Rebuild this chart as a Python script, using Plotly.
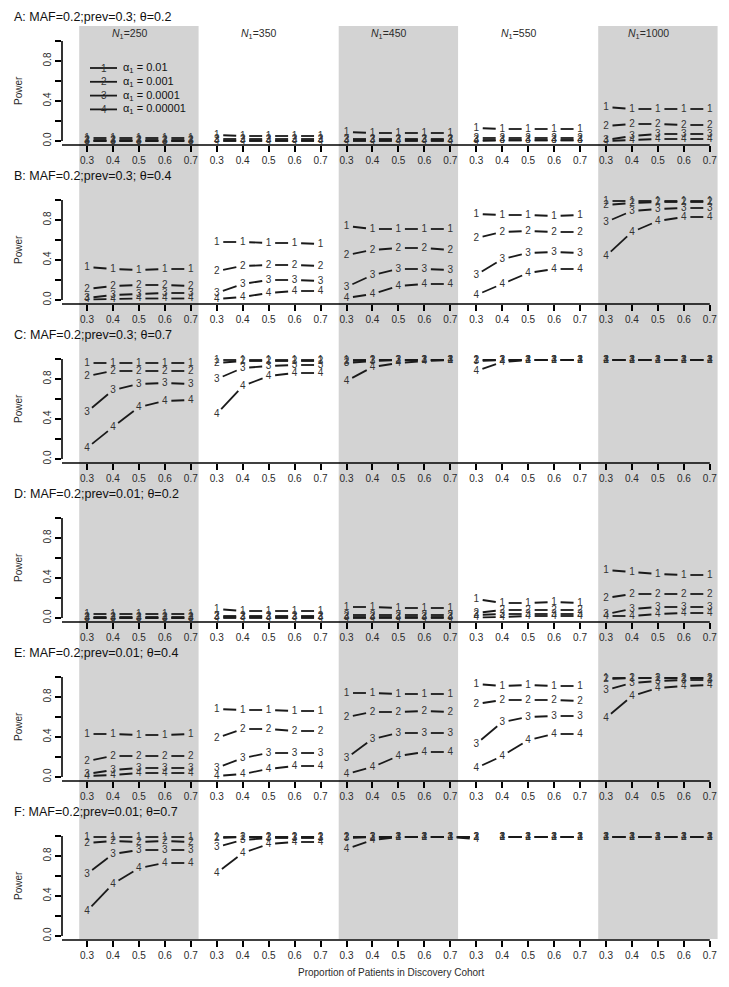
import math
import plotly.graph_objects as go

W, H = 729, 987          # browser window
OFF = 8                  # default page margin of the html body
FW, FH = W - 2 * OFF, H - 2 * OFF   # figure size

# ---------------- data ----------------
PROPS = ["0.3", "0.4", "0.5", "0.6", "0.7"]
N1_VALUES = ["250", "350", "450", "550", "1000"]
ALPHAS = ["0.01", "0.001", "0.0001", "0.00001"]
ROW_TITLES = [
    "A: MAF=0.2;prev=0.3; θ=0.2",
    "B: MAF=0.2;prev=0.3; θ=0.4",
    "C: MAF=0.2;prev=0.3; θ=0.7",
    "D: MAF=0.2;prev=0.01; θ=0.2",
    "E: MAF=0.2;prev=0.01; θ=0.4",
    "F: MAF=0.2;prev=0.01; θ=0.7",
]

# each list: 25 values = 5 panels (N1=250,350,450,550,1000) x 5 proportions
A_S1 = [0.03, 0.03, 0.03, 0.03, 0.03, 0.06, 0.05, 0.05, 0.05, 0.05, 0.09, 0.08, 0.08, 0.08, 0.08, 0.13, 0.12, 0.12, 0.12, 0.12, 0.34, 0.32, 0.32, 0.32, 0.32]
A_S2 = [0.01, 0.01, 0.01, 0.01, 0.01, 0.02, 0.02, 0.02, 0.02, 0.02, 0.02, 0.02, 0.02, 0.02, 0.02, 0.03, 0.03, 0.03, 0.03, 0.03, 0.15, 0.17, 0.17, 0.16, 0.16]
A_S3 = [0.00, 0.00, 0.00, 0.00, 0.00, 0.005, 0.005, 0.005, 0.005, 0.005, 0.01, 0.01, 0.01, 0.01, 0.01, 0.01, 0.01, 0.01, 0.01, 0.01, 0.01, 0.05, 0.07, 0.07, 0.07]
A_S4 = [0.00, 0.00, 0.00, 0.00, 0.00, 0.00, 0.00, 0.00, 0.00, 0.00, 0.00, 0.00, 0.00, 0.00, 0.00, 0.00, 0.005, 0.005, 0.005, 0.005, 0.00, 0.01, 0.02, 0.02, 0.02]

B_S1 = [0.33, 0.31, 0.30, 0.31, 0.31, 0.58, 0.58, 0.57, 0.57, 0.56, 0.74, 0.71, 0.71, 0.71, 0.71, 0.86, 0.85, 0.85, 0.84, 0.85, 0.99, 0.99, 0.99, 0.99, 0.99]
B_S2 = [0.11, 0.14, 0.15, 0.15, 0.14, 0.29, 0.34, 0.35, 0.35, 0.34, 0.45, 0.50, 0.52, 0.52, 0.50, 0.62, 0.68, 0.69, 0.68, 0.68, 0.95, 0.97, 0.98, 0.98, 0.98]
B_S3 = [0.02, 0.05, 0.06, 0.07, 0.07, 0.07, 0.16, 0.20, 0.20, 0.19, 0.13, 0.25, 0.31, 0.31, 0.30, 0.25, 0.41, 0.47, 0.48, 0.47, 0.78, 0.89, 0.91, 0.92, 0.92]
B_S4 = [0.005, 0.01, 0.015, 0.015, 0.015, 0.01, 0.03, 0.07, 0.09, 0.09, 0.02, 0.06, 0.14, 0.16, 0.16, 0.05, 0.16, 0.27, 0.31, 0.31, 0.44, 0.68, 0.79, 0.83, 0.83]

C_S1 = [0.96, 0.96, 0.96, 0.96, 0.96, 0.99, 0.99, 0.99, 0.99, 0.99, 0.99, 0.99, 0.99, 0.99, 0.99, 0.99, 0.99, 0.99, 0.99, 0.99, 0.99, 0.99, 0.99, 0.99, 0.99]
C_S2 = [0.83, 0.88, 0.88, 0.88, 0.88, 0.96, 0.98, 0.98, 0.98, 0.98, 0.98, 0.99, 0.99, 0.99, 0.99, 0.99, 0.99, 0.99, 0.99, 0.99, 0.99, 0.99, 0.99, 0.99, 0.99]
C_S3 = [0.47, 0.69, 0.75, 0.76, 0.75, 0.80, 0.91, 0.93, 0.94, 0.94, 0.96, 0.98, 0.99, 0.99, 0.99, 0.98, 0.99, 0.99, 0.99, 0.99, 0.99, 0.99, 0.99, 0.99, 0.99]
C_S4 = [0.11, 0.32, 0.52, 0.58, 0.59, 0.45, 0.73, 0.83, 0.86, 0.86, 0.78, 0.92, 0.96, 0.98, 0.99, 0.88, 0.97, 0.99, 0.99, 0.99, 0.99, 0.99, 0.99, 0.99, 0.99]

D_S1 = [0.04, 0.04, 0.04, 0.04, 0.04, 0.09, 0.07, 0.07, 0.07, 0.07, 0.11, 0.11, 0.10, 0.10, 0.10, 0.19, 0.15, 0.15, 0.16, 0.15, 0.48, 0.46, 0.44, 0.43, 0.43]
D_S2 = [0.01, 0.01, 0.01, 0.01, 0.01, 0.02, 0.02, 0.02, 0.02, 0.02, 0.03, 0.03, 0.03, 0.03, 0.03, 0.05, 0.08, 0.08, 0.08, 0.08, 0.20, 0.24, 0.24, 0.24, 0.24]
D_S3 = [0.00, 0.00, 0.00, 0.00, 0.00, 0.01, 0.01, 0.01, 0.01, 0.01, 0.01, 0.01, 0.01, 0.01, 0.01, 0.03, 0.04, 0.04, 0.04, 0.04, 0.04, 0.09, 0.11, 0.11, 0.11]
D_S4 = [0.00, 0.00, 0.00, 0.00, 0.00, 0.00, 0.00, 0.00, 0.00, 0.00, 0.00, 0.00, 0.00, 0.00, 0.00, 0.005, 0.01, 0.02, 0.02, 0.02, 0.02, 0.02, 0.04, 0.05, 0.05]

E_S1 = [0.43, 0.43, 0.42, 0.42, 0.43, 0.68, 0.67, 0.67, 0.66, 0.66, 0.84, 0.84, 0.83, 0.83, 0.83, 0.93, 0.91, 0.92, 0.91, 0.91, 0.99, 0.99, 0.99, 0.99, 0.99]
E_S2 = [0.16, 0.21, 0.21, 0.21, 0.21, 0.39, 0.48, 0.48, 0.46, 0.46, 0.60, 0.65, 0.65, 0.66, 0.65, 0.73, 0.77, 0.77, 0.77, 0.76, 0.98, 0.99, 0.99, 0.99, 0.99]
E_S3 = [0.03, 0.07, 0.09, 0.09, 0.09, 0.09, 0.19, 0.24, 0.24, 0.24, 0.19, 0.38, 0.44, 0.44, 0.44, 0.33, 0.55, 0.60, 0.61, 0.61, 0.87, 0.94, 0.96, 0.97, 0.97]
E_S4 = [0.01, 0.02, 0.04, 0.04, 0.04, 0.01, 0.03, 0.08, 0.11, 0.11, 0.03, 0.10, 0.21, 0.25, 0.25, 0.09, 0.21, 0.37, 0.43, 0.43, 0.59, 0.81, 0.89, 0.91, 0.92]

F_S1 = [0.99, 0.99, 0.99, 0.99, 0.99, 0.99, 0.99, 0.99, 0.99, 0.99, 0.99, 0.99, 0.99, 0.99, 0.99, 0.99, 0.99, 0.99, 0.99, 0.99, 0.99, 0.99, 0.99, 0.99, 0.99]
F_S2 = [0.93, 0.95, 0.94, 0.95, 0.94, 0.98, 0.99, 0.99, 0.99, 0.99, 0.99, 0.99, 0.99, 0.99, 0.99, 0.99, 0.99, 0.99, 0.99, 0.99, 0.99, 0.99, 0.99, 0.99, 0.99]
F_S3 = [0.62, 0.82, 0.86, 0.86, 0.86, 0.89, 0.96, 0.98, 0.98, 0.98, 0.98, 0.99, 0.99, 0.99, 0.99, 0.99, 0.99, 0.99, 0.99, 0.99, 0.99, 0.99, 0.99, 0.99, 0.99]
F_S4 = [0.25, 0.52, 0.68, 0.73, 0.73, 0.63, 0.83, 0.92, 0.94, 0.94, 0.87, 0.96, 0.99, 0.99, 0.99, 0.97, 0.99, 0.99, 0.99, 0.99, 0.99, 0.99, 0.99, 0.99, 0.99]

# how the 25 points of each row are joined into connected line pieces
GROUPS_A = [5, 5, 5, 5, 5]
GROUPS_B = [5, 5, 5, 5, 5]
GROUPS_C = [5, 5, 5, 5, 5]
GROUPS_D = [5, 5, 5, 5, 5]
GROUPS_E = [5, 5, 5, 5, 5]
GROUPS_F = [5, 5, 6, 4, 5]

ROWS = [
    ([A_S1, A_S2, A_S3, A_S4], GROUPS_A),
    ([B_S1, B_S2, B_S3, B_S4], GROUPS_B),
    ([C_S1, C_S2, C_S3, C_S4], GROUPS_C),
    ([D_S1, D_S2, D_S3, D_S4], GROUPS_D),
    ([E_S1, E_S2, E_S3, E_S4], GROUPS_E),
    ([F_S1, F_S2, F_S3, F_S4], GROUPS_F),
]

# ---------------- geometry / style (window pixels) ----------------
X_ZERO_PX = 87.0      # pixel of first tick
UNIT_PX = 25.95       # pixels per tick step
LEFT_PX = 62.0        # left edge of plot region
ROW0_PX = 141.0       # pixel of power 0 in the first row
ROW_PITCH = 159.0
Y_UNIT_PX = 100.0     # pixels per 1.0 of power
GAP_PX = 6.5
BAND = "#d3d3d3"
INK = "#1a1a1a"
TXT = "#2b2b2b"
FONT = "Liberation Sans, Arial, sans-serif"

NPTS = len(PROPS) * len(N1_VALUES)
XPOS = list(range(NPTS))
X_RANGE = [(LEFT_PX - X_ZERO_PX) / UNIT_PX, (FW + OFF - X_ZERO_PX) / UNIT_PX]
Y_RANGE = [-0.04, 1.04]


def pxw(pix):
    """window x pixel -> paper x"""
    return (pix - OFF) / FW


def px_x(idx):
    return pxw(X_ZERO_PX + idx * UNIT_PX)


def py(pix):
    """window y pixel -> paper y"""
    return 1 - (pix - OFF) / FH


def gapped(xs, ys, groups):
    sx, sy = [], []
    start = 0
    for g in groups:
        for i in range(start, start + g - 1):
            x1, x2, y1, y2 = xs[i], xs[i + 1], ys[i], ys[i + 1]
            L = math.hypot((x2 - x1) * UNIT_PX, (y2 - y1) * Y_UNIT_PX)
            if L <= 2 * GAP_PX:
                continue
            t = GAP_PX / L
            sx += [x1 + t * (x2 - x1), x2 - t * (x2 - x1), None]
            sy += [y1 + t * (y2 - y1), y2 - t * (y2 - y1), None]
        start += g
    return sx, sy


fig = go.Figure()
shapes = []
annotations = []

# gray bands behind panels 1, 3, 5
for k in (0, 2, 4):
    shapes.append(dict(type="rect", xref="paper", yref="paper",
                       x0=px_x(5 * k - 0.3), x1=px_x(5 * k + 4.3),
                       y0=py(939), y1=py(26), fillcolor=BAND,
                       line=dict(width=0), layer="below"))

layout_axes = {}
for r, (series, groups) in enumerate(ROWS):
    n = r + 1
    xa = "x" if n == 1 else f"x{n}"
    ya = "y" if n == 1 else f"y{n}"
    y0 = ROW0_PX + ROW_PITCH * r
    dom = [py(y0 + 4), py(y0 - 104)]
    layout_axes["xaxis" if n == 1 else f"xaxis{n}"] = dict(
        domain=[pxw(LEFT_PX), 1], range=X_RANGE, anchor=ya,
        tickmode="array", tickvals=XPOS, ticktext=PROPS * len(N1_VALUES),
        ticks="outside", ticklen=6, tickwidth=1.5, tickcolor="black",
        showline=False, showgrid=False, zeroline=False,
        tickfont=dict(size=10, color=TXT, family=FONT), fixedrange=True)
    layout_axes["yaxis" if n == 1 else f"yaxis{n}"] = dict(
        domain=dom, range=Y_RANGE, anchor=xa,
        tickmode="array", tickvals=[0, 0.2, 0.4, 0.6, 0.8, 1.0],
        ticktext=["0.0", "", "0.4", "", "0.8", ""], tickangle=-90,
        ticks="outside", ticklen=6, tickwidth=1.5, tickcolor="black",
        showline=False, showgrid=False, zeroline=False,
        tickfont=dict(size=10, color=TXT, family=FONT), fixedrange=True)

    # axis lines like the original (left spans 0..1, bottom to last tick)
    shapes.append(dict(type="line", xref="paper", yref="paper",
                       x0=pxw(LEFT_PX), x1=pxw(LEFT_PX),
                       y0=py(y0), y1=py(y0 - 100), line=dict(color="black", width=1.6)))
    shapes.append(dict(type="line", xref="paper", yref="paper",
                       x0=pxw(LEFT_PX), x1=px_x(XPOS[-1]),
                       y0=py(y0 + 4), y1=py(y0 + 4), line=dict(color="black", width=1.6)))

    for s, ys in enumerate(series):
        sx, sy = gapped(XPOS, ys, groups)
        fig.add_trace(go.Scatter(x=sx, y=sy, xaxis=xa, yaxis=ya, mode="lines",
                                 line=dict(color=INK, width=1.8),
                                 showlegend=False, hoverinfo="skip", cliponaxis=False))
    for s, ys in enumerate(series):
        fig.add_trace(go.Scatter(x=XPOS, y=ys, xaxis=xa, yaxis=ya, mode="text",
                                 text=[str(s + 1)] * len(ys), textposition="middle center",
                                 textfont=dict(size=10, color="#333333", family=FONT),
                                 showlegend=False, cliponaxis=False))

    annotations.append(dict(xref="paper", yref="paper", x=pxw(12),
                            y=py(17 + ROW_PITCH * r), xanchor="left", yanchor="middle",
                            text=ROW_TITLES[r], showarrow=False,
                            font=dict(size=12.5, color="#111111", family=FONT)))
    annotations.append(dict(xref="paper", yref="paper", x=pxw(18),
                            y=py(y0 - 50), xanchor="center", yanchor="middle",
                            text="Power", textangle=-90, showarrow=False,
                            font=dict(size=10, color=TXT, family=FONT)))

# panel headers
for k, nval in enumerate(N1_VALUES):
    annotations.append(dict(xref="paper", yref="paper", x=px_x(5 * k + 1.62),
                            y=py(34), xanchor="center", yanchor="middle",
                            text=f"<i>N</i><sub>1</sub>={nval}", showarrow=False,
                            font=dict(size=10.5, color=TXT, family=FONT)))

# legend (inside first panel of row A)
for i, a in enumerate(ALPHAS):
    yy = py(68 + 13.8 * i)
    shapes.append(dict(type="line", xref="paper", yref="paper",
                       x0=pxw(90), x1=pxw(117), y0=yy, y1=yy,
                       line=dict(color=INK, width=1.8)))
    annotations.append(dict(xref="paper", yref="paper", x=pxw(103.5), y=yy,
                            xanchor="center", yanchor="middle", text=str(i + 1),
                            showarrow=False, font=dict(size=10, color="#333333", family=FONT)))
    annotations.append(dict(xref="paper", yref="paper", x=pxw(121), y=yy,
                            xanchor="left", yanchor="middle",
                            text=f"α<sub>1</sub> = {a}", showarrow=False,
                            font=dict(size=11, color="#111111", family=FONT)))

annotations.append(dict(xref="paper", yref="paper", x=pxw(391), y=py(972),
                        xanchor="center", yanchor="middle",
                        text="Proportion of Patients in Discovery Cohort", showarrow=False,
                        font=dict(size=10, color=TXT, family=FONT)))

fig.update_layout(
    width=FW, height=FH, margin=dict(l=0, r=0, t=0, b=0),
    paper_bgcolor="white", plot_bgcolor="rgba(0,0,0,0)",
    showlegend=False, shapes=shapes, annotations=annotations,
    font=dict(family=FONT),
    **layout_axes,
)

fig.write_html("out.html")
